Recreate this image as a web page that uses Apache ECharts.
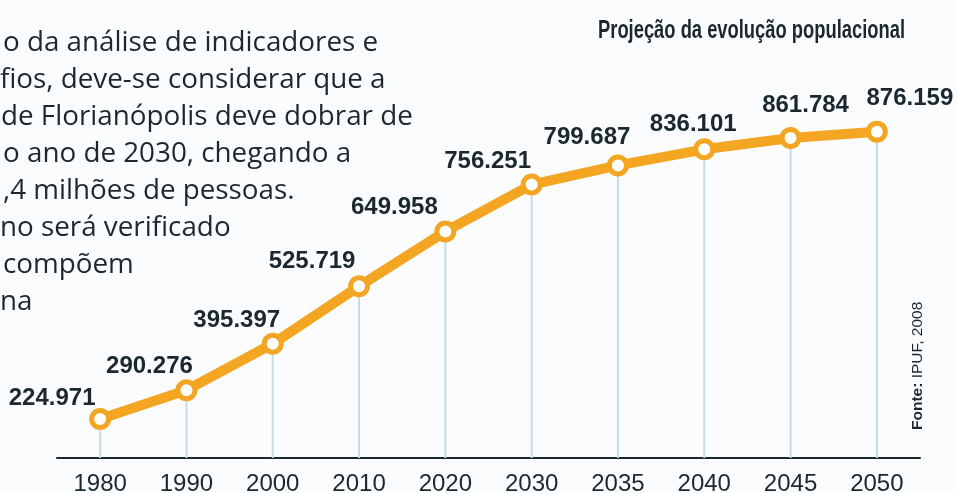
<!DOCTYPE html>
<html>
<head>
<meta charset="utf-8">
<script src="https://cdn.jsdelivr.net/npm/echarts@6/dist/echarts.min.js"></script>
<style>
    html, body { margin: 0; padding: 0; background: #fbfcfe; }
    #chart { width: 957px; height: 493px; }
</style>
</head>
<body>
<div id="chart"></div>
<script>
// anos (eixo de categorias, espaçamento igual como no original)
const years = ['1980', '1990', '2000', '2010', '2020', '2030', '2035', '2040', '2045', '2050'];
// população projetada
const population = [224971, 290276, 395397, 525719, 649958, 756251, 799687, 836101, 861784, 876159];
// rótulos como impressos
const valueLabels = ['224.971', '290.276', '395.397', '525.719', '649.958', '756.251', '799.687', '836.101', '861.784', '876.159'];

const introLines = [
    'o da análise de indicadores e',
    'fios, deve-se considerar que a',
    'de Florianópolis deve dobrar de',
    'o ano de 2030, chegando a',
    ',4 milhões de pessoas.',
    'no será verificado',
    'compõem',
    'na'
];

// deslocamento dos rótulos em relação ao ponto (layout)
const labelShift = [
    [-48, -21], [-37, -24], [-36, -23], [-47, -25], [-51, -24],
    [-44, -23], [-31, -28], [-11, -25], [15, -33], [33, -33]
];

const orange = '#f4a522';
const ink = '#1b2830';

// largura do texto para comprimir o título
function textWidth(txt, font) {
    let ctx = document.createElement('canvas').getContext('2d');
    ctx.font = font;
    return ctx.measureText(txt).width;
}

let myChart = echarts.init(document.getElementById('chart'));

let textGraphics = introLines.map(function (line, i) {
    return {
        type: 'text',
        x: [3, 0, 1, 3, 3, 0, 3, 0][i],
        y: 43 + i * 37,
        style: {
            text: line,
            fill: ink,
            font: '27.8px "Open Sans", sans-serif',
            verticalAlign: 'middle'
        }
    };
});

const titleText = 'Projeção da evolução populacional';
const titleFont = 'bold 25px "Liberation Sans", Arial, sans-serif';
const titleScale = 307 / textWidth(titleText, titleFont);

let option = {
    backgroundColor: '#fbfcfe',
    animation: false,
    grid: {
        left: 57,
        right: 37,
        top: 77,
        bottom: 35,
        outerBoundsMode: 'none'
    },
    xAxis: {
        type: 'category',
        data: years,
        boundaryGap: true,
        axisLine: { show: true, lineStyle: { color: ink, width: 2 } },
        axisTick: { show: false },
        axisLabel: {
            color: ink,
            fontFamily: 'Liberation Sans, Arial, sans-serif',
            fontSize: 24,
            margin: 14
        },
        splitLine: { show: false }
    },
    yAxis: {
        type: 'value',
        min: 136500,
        max: 1000000,
        show: false,
        splitLine: { show: false }
    },
    graphic: textGraphics.concat([
        {
            type: 'text',
            x: 598,
            y: 31,
            scaleX: titleScale,
            style: {
                text: titleText,
                fill: ink,
                font: titleFont,
                verticalAlign: 'middle'
            }
        },
        {
            type: 'text',
            x: 910,
            y: 430,
            rotation: Math.PI / 2,
            style: {
                text: '{b|Fonte:} IPUF, 2008',
                fill: ink,
                font: '15.5px "Liberation Sans", Arial, sans-serif',
                rich: {
                    b: { fontWeight: 'bold', fontSize: 15.5, fontFamily: 'Liberation Sans, Arial, sans-serif', fill: ink }
                }
            }
        }
    ]),
    series: [
        {
            // linhas verticais finas do ponto até o eixo
            type: 'bar',
            data: population,
            barWidth: 2,
            itemStyle: { color: '#c6dce7' },
            silent: true,
            z: 1
        },
        {
            type: 'line',
            data: population.map(function (v, i) {
                return {
                    value: v,
                    label: { offset: labelShift[i] }
                };
            }),
            symbol: 'circle',
            symbolSize: 17,
            itemStyle: {
                color: '#ffffff',
                borderColor: orange,
                borderWidth: 5
            },
            lineStyle: { color: orange, width: 10 },
            label: {
                show: true,
                position: 'inside',
                color: ink,
                fontFamily: 'Liberation Sans, Arial, sans-serif',
                fontWeight: 'bold',
                fontSize: 24,
                formatter: function (p) { return valueLabels[p.dataIndex]; }
            },
            z: 3
        }
    ]
};

myChart.setOption(option);
</script>
</body>
</html>
